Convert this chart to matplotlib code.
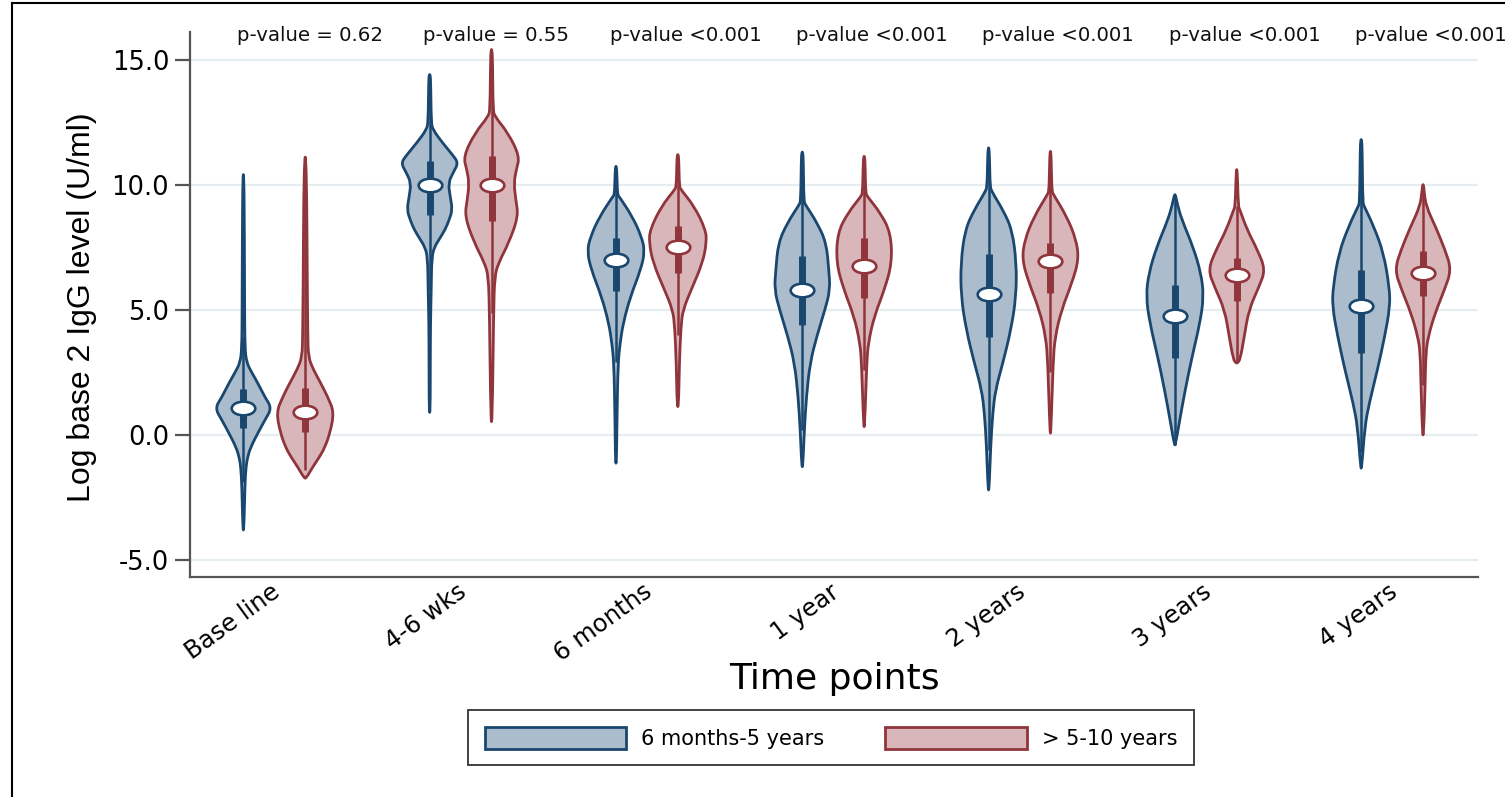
import numpy as np
import matplotlib
matplotlib.use("Agg")
import matplotlib.pyplot as plt
from matplotlib.path import Path
from matplotlib.patches import Patch, PathPatch
import matplotlib.transforms as mtransforms
from matplotlib.lines import Line2D

# ---------------- data ----------------
time_points = ["Base line", "4-6 wks", "6 months", "1 year", "2 years", "3 years", "4 years"]
p_values = ["p-value = 0.62", "p-value = 0.55", "p-value <0.001", "p-value <0.001",
            "p-value <0.001", "p-value <0.001", "p-value <0.001"]
groups = ["6 months-5 years", "> 5-10 years"]

# violin density profiles: (log2 IgG level, relative density) from top to bottom
blue_profiles = [
    [(10.4, 0.5), (8.0, 1.0), (5.0, 1.2), (3.5, 1.5), (2.9, 3), (2.5, 8), (2.07, 14), (1.5, 21),
     (1.07, 27.5), (0.6, 21), (0.07, 14), (-0.5, 7), (-0.9, 4), (-1.3, 2.5), (-2.0, 1.5), (-3.8, 0.5)],
    [(14.4, 0.5), (14.07, 1), (12.5, 1.5), (12.2, 3), (11.67, 12.5), (11.2, 22), (10.87, 27.8),
     (10.5, 23), (10.07, 18), (9.5, 20), (9.0, 22), (8.6, 19), (8.2, 15), (7.8, 9), (7.53, 5),
     (7.13, 2), (5.8, 1.5), (4.5, 0.8), (2.9, 0.6), (0.9, 0.5)],
    [(10.73, 0.5), (10.27, 1), (9.6, 1.5), (9.53, 3), (8.73, 15.8), (7.93, 24.7), (7.33, 28),
     (6.6, 24), (5.53, 14), (4.47, 7), (3.67, 4), (2.87, 2), (0.73, 1), (-1.13, 0.5)],
    [(11.3, 0.5), (10.93, 1), (9.33, 1.5), (9.2, 3), (8.47, 14.5), (7.67, 23.3), (6.6, 25.7),
     (5.8, 27), (5.0, 22), (3.93, 14), (2.87, 7.5), (1.53, 4), (0.2, 2), (-1.27, 0.5)],
    [(11.47, 0.5), (10.87, 1), (9.93, 1.5), (9.73, 3), (9.0, 13.8), (8.2, 22.8), (6.87, 27),
     (5.53, 26.7), (4.2, 21.7), (2.87, 13.8), (1.8, 6.7), (0.87, 4), (-0.47, 2), (-2.2, 0.5)],
    [(9.6, 0.5), (9.2, 2.5), (8.6, 6.7), (7.53, 17.5), (6.47, 25.3), (5.53, 28), (4.47, 24.3),
     (3.13, 16.7), (1.8, 10), (0.6, 4.7), (-0.4, 0.5)],
    [(11.8, 0.5), (11.27, 1), (9.27, 1.5), (9.13, 3), (8.33, 12.2), (7.27, 21.7), (5.93, 27.2),
     (5.13, 28), (3.93, 22.8), (2.6, 15.8), (1.27, 7.8), (0.33, 3.5), (-1.33, 0.5)],
]
red_profiles = [
    [(11.1, 0.5), (9.5, 1.5), (6.0, 2), (4.0, 2.5), (3.1, 3), (2.6, 8), (2.07, 15), (1.5, 22),
     (0.9, 28), (0.07, 24), (-0.5, 19), (-0.87, 14), (-1.3, 7), (-1.73, 1)],
    [(15.4, 0.5), (14.8, 1), (13.0, 1.5), (12.73, 3), (12.07, 16), (11.13, 27.3), (10.6, 24),
     (10.07, 21.7), (9.4, 23.5), (8.73, 26), (7.67, 16.7), (6.87, 6.7), (6.33, 3), (4.87, 2),
     (0.53, 0.7)],
    [(11.2, 0.5), (10.87, 1), (9.93, 1.5), (9.8, 3), (9.13, 16), (8.2, 27), (7.67, 27.8),
     (6.87, 24), (5.8, 13), (5.0, 5), (4.33, 3), (2.87, 1.5), (1.13, 0.7)],
    [(11.13, 0.5), (10.71, 1), (9.67, 1.5), (9.53, 3), (8.87, 15.8), (8.07, 25.8), (6.87, 27),
     (5.8, 19.7), (4.73, 9.7), (3.67, 4), (2.87, 2.5), (0.33, 0.5)],
    [(11.33, 0.5), (10.47, 1), (9.73, 1.5), (9.6, 3), (8.73, 15.8), (7.8, 25), (7.0, 27.5),
     (6.07, 20.8), (5.0, 10.8), (3.93, 4.5), (2.87, 2.5), (0.07, 0.5)],
    [(10.6, 0.5), (9.13, 1.5), (9.0, 3), (8.2, 10), (7.4, 20), (6.6, 27.8), (5.93, 21.7),
     (5.0, 11.7), (3.93, 7.3), (3.0, 3.3), (2.87, 0.5)],
    [(10.0, 0.5), (9.73, 1), (9.13, 3), (8.33, 12), (7.4, 21.3), (6.6, 27.5), (5.8, 20.8),
     (4.87, 11.7), (3.93, 5), (3.27, 2.7), (1.93, 2), (0.0, 0.5)],
]

blue_median = [1.07, 10.0, 6.97, 5.77, 5.64, 4.76, 5.16]
blue_q1 = [0.27, 8.8, 5.73, 4.4, 3.91, 3.07, 3.29]
blue_q3 = [1.83, 10.93, 7.87, 7.13, 7.24, 6.0, 6.57]
blue_lo = [-1.9, 5.8, 2.9, 0.2, -0.6, -0.4, -0.7]
blue_hi = [3.9, 14.07, 10.27, 10.93, 10.87, 9.6, 11.27]

red_median = [0.93, 10.0, 7.5, 6.73, 6.93, 6.4, 6.47]
red_q1 = [0.13, 8.53, 6.47, 5.47, 5.67, 5.33, 5.53]
red_q3 = [1.87, 11.16, 8.36, 7.87, 7.67, 7.07, 7.33]
red_lo = [-1.4, 4.87, 4.0, 2.6, 2.5, 2.9, 2.0]
red_hi = [9.5, 14.8, 10.87, 10.71, 10.5, 9.13, 9.73]

# ---------------- styling ----------------
BLUE_LINE = "#1a476f"
BLUE_FILL = "#abbdcd"
RED_LINE = "#90353b"
RED_FILL = "#d8b6b9"
OFFSET = 0.166
DENS_SCALE = 0.155 / 28.0

fig = plt.figure(figsize=(15.05, 7.97), dpi=100)
ax = fig.add_axes([190 / 1505, 1 - 577 / 797, (1478 - 190) / 1505, (577 - 32) / 797])

for y in [-5, 0, 5, 10, 15]:
    ax.axhline(y, color="#e5edf0", lw=1.6, zorder=0)

circ = Path.unit_circle()
ellipse = Path(circ.vertices * np.array([1.0, 0.58]), circ.codes)


def smooth_outline(pos, prof):
    prof = np.array(prof, dtype=float)
    yv = prof[:, 0]
    w = prof[:, 1] * DENS_SCALE
    ring = np.vstack([np.column_stack([pos + w, yv]),
                      np.column_stack([(pos - w)[::-1], yv[::-1]])])
    n = len(ring)
    mids = (ring + np.roll(ring, -1, axis=0)) / 2.0
    verts = [mids[-1]]
    codes = [Path.MOVETO]
    for i in range(n):
        verts += [ring[i], mids[i]]
        codes += [Path.CURVE3, Path.CURVE3]
    verts.append(mids[-1])
    codes.append(Path.CLOSEPOLY)
    return Path(np.array(verts), codes)


def draw_violin(pos, prof, med, q1, q3, lo, hi, line_c, fill_c):
    ax.add_patch(PathPatch(smooth_outline(pos, prof), facecolor=fill_c, edgecolor=line_c,
                           lw=2.0, joinstyle="round", zorder=2))
    ax.plot([pos, pos], [lo, hi], color=line_c, lw=1.8, zorder=4, solid_capstyle="butt")
    ax.plot([pos, pos], [q1, q3], color=line_c, lw=5.0, zorder=5, solid_capstyle="butt")
    ax.plot([pos], [med], marker=ellipse, markersize=17, markerfacecolor="white",
            markeredgecolor=line_c, markeredgewidth=1.9, zorder=6, linestyle="none")


for i in range(len(time_points)):
    draw_violin(i - OFFSET, blue_profiles[i], blue_median[i], blue_q1[i], blue_q3[i],
                blue_lo[i], blue_hi[i], BLUE_LINE, BLUE_FILL)
    draw_violin(i + OFFSET, red_profiles[i], red_median[i], red_q1[i], red_q3[i],
                red_lo[i], red_hi[i], RED_LINE, RED_FILL)
    ax.text(i - 0.2, 15.95, p_values[i], ha="left", va="center", fontsize=14.2,
            family="DejaVu Sans", color="#111111", clip_on=False)

ax.set_xlim(-0.4525, 6.461)
ax.set_ylim(-5.68, 16.1)

ax.set_yticks([-5, 0, 5, 10, 15])
ax.set_yticklabels(["-5.0", "0.0", "5.0", "10.0", "15.0"], fontsize=18.5, family="DejaVu Sans")
ax.tick_params(axis="y", length=11, width=1.6, color="#555555", pad=4)

ax.set_xticks(range(len(time_points)))
ax.set_xticklabels(time_points, fontsize=17.5, family="DejaVu Sans", rotation=36,
                   ha="right", va="top", rotation_mode="anchor")
ax.tick_params(axis="x", length=0, pad=2)
offset = mtransforms.ScaledTranslation(-4 / 100, 0, fig.dpi_scale_trans)
for lab in ax.get_xticklabels():
    lab.set_transform(lab.get_transform() + offset)

for s in ["top", "right"]:
    ax.spines[s].set_visible(False)
for s in ["left", "bottom"]:
    ax.spines[s].set_color("#555555")
    ax.spines[s].set_linewidth(1.6)

fig.text(82 / 1505, 1 - 307 / 797, "Log base 2 IgG level (U/ml)", rotation=90, ha="center",
         va="center", fontsize=23, family="Liberation Sans")
fig.text(834 / 1505, 1 - 679 / 797, "Time points", ha="center", va="center", fontsize=26,
         family="DejaVu Sans")

handles = [Patch(facecolor=BLUE_FILL, edgecolor=BLUE_LINE, lw=2.0),
           Patch(facecolor=RED_FILL, edgecolor=RED_LINE, lw=2.0)]
leg = fig.legend(handles, groups, loc="upper center", bbox_to_anchor=(831 / 1505, 1 - 710 / 797),
                 ncol=2, prop={"family": "DejaVu Sans", "size": 15},
                 handlelength=6.8, handleheight=1.25, handletextpad=0.72, columnspacing=2.9,
                 borderpad=0.8, borderaxespad=0.0, frameon=True, fancybox=False,
                 edgecolor="black")
leg.get_frame().set_linewidth(1.3)

# outer frame
fig.add_artist(Line2D([12 / 1505, 12 / 1505], [0, 1 - 3 / 797], transform=fig.transFigure,
                      color="black", lw=1.5))
fig.add_artist(Line2D([12 / 1505, 1], [1 - 3 / 797, 1 - 3 / 797], transform=fig.transFigure,
                      color="black", lw=1.5))

fig.savefig("out.png", dpi=100, facecolor="white")
